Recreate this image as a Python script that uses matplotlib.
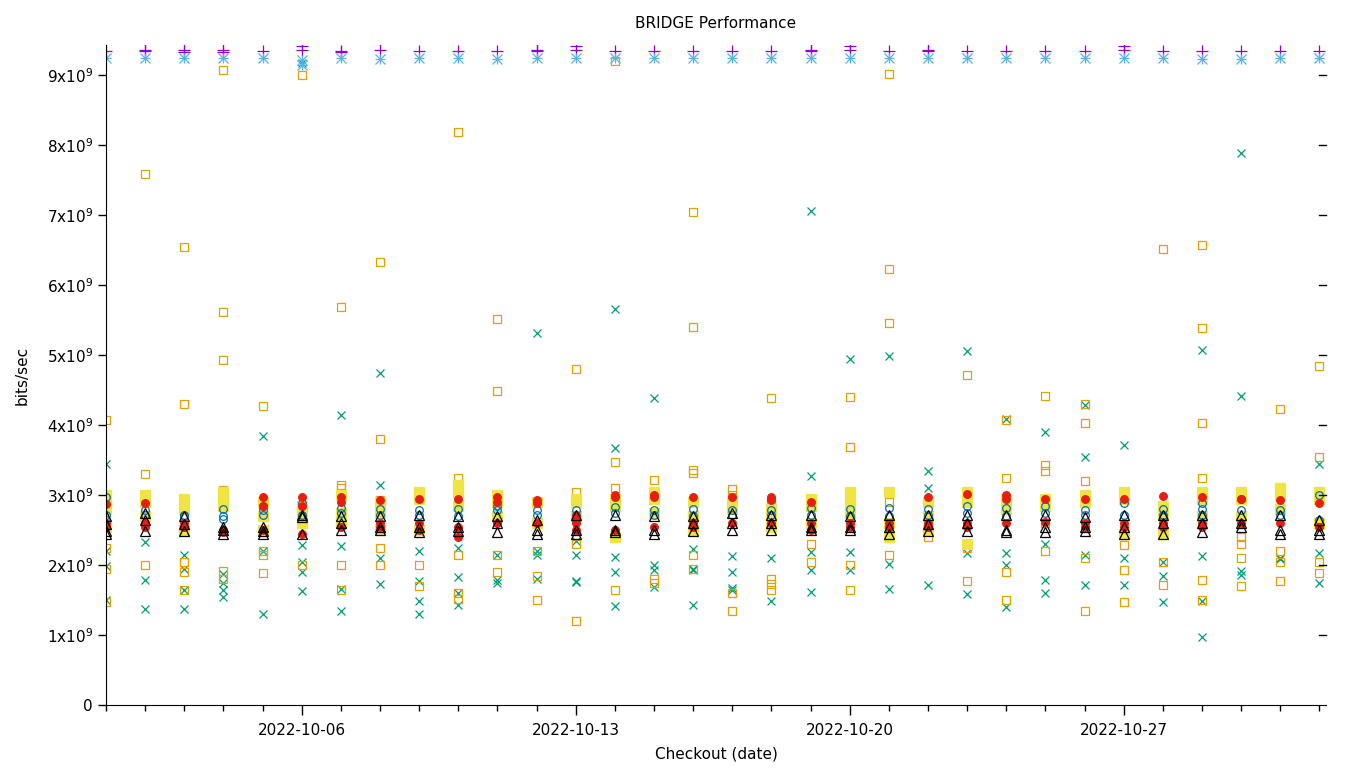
import numpy as np
import matplotlib
matplotlib.use("Agg")
from matplotlib import pyplot as plt
import matplotlib.dates as mdates
from matplotlib.ticker import FixedLocator, FuncFormatter
import datetime as dt

# one entry per day, 2022-10-01 .. 2022-11-01, values in 1e9 bits/sec
start = dt.datetime(2022, 10, 1)
n_days = 32

purple_plus = [
    [9.35], [9.36, 9.34], [9.36, 9.33], [9.36, 9.33], [9.34], [9.36, 9.42],
    [9.35, 9.33], [9.36], [9.35], [9.35], [9.35], [9.36, 9.34], [9.36, 9.42],
    [9.35], [9.35], [9.35], [9.35], [9.35], [9.36, 9.34], [9.36, 9.42],
    [9.35], [9.36, 9.34], [9.35], [9.35], [9.35], [9.35], [9.36, 9.42],
    [9.35], [9.35], [9.35], [9.35], [9.35]]

sky_star = [
    [9.24], [9.24], [9.24], [9.24], [9.24], [9.22, 9.15], [9.24], [9.23],
    [9.24], [9.24], [9.23], [9.24], [9.24], [9.24], [9.24], [9.24], [9.24],
    [9.24], [9.24], [9.24], [9.24], [9.24], [9.24], [9.24], [9.24], [9.24],
    [9.24], [9.24], [9.23], [9.23], [9.24], [9.24]]

green_x = [
    [3.45, 2.2, 1.98, 1.5], [2.95, 2.33, 1.78, 1.37], [2.15, 1.95, 1.65, 1.37],
    [1.87, 1.75, 1.65, 1.55], [3.85, 2.8, 2.2, 1.3], [9.17, 2.28, 2.05, 1.9, 1.63],
    [4.15, 2.27, 1.66, 1.35], [4.74, 3.15, 2.1, 1.73], [2.2, 1.77, 1.48, 1.3],
    [2.25, 1.83, 1.6, 1.43], [2.78, 2.15, 1.78, 1.75], [5.32, 2.2, 2.15, 1.8],
    [2.35, 2.15, 1.77, 1.76], [5.66, 3.67, 2.12, 1.9, 1.41], [4.39, 2.0, 1.93, 1.68],
    [2.23, 1.95, 1.93, 1.43], [2.13, 1.9, 1.67, 1.65], [2.1, 1.49],
    [7.06, 3.27, 2.18, 1.93, 1.62], [4.95, 2.18, 1.93], [4.98, 2.45, 2.02, 1.66],
    [3.35, 3.1, 1.72], [5.06, 2.9, 2.17, 1.58], [4.08, 2.17, 2.0, 1.4],
    [3.9, 2.3, 1.78, 1.6], [4.28, 3.55, 2.15, 1.72], [3.71, 2.1, 1.72],
    [2.05, 1.85, 1.47], [5.07, 2.13, 1.48, 0.97], [7.88, 4.42, 1.92, 1.86],
    [2.1, 2.08], [3.45, 2.17, 1.75]]

orange_sq = [
    [4.07, 3.0, 2.25, 1.95, 1.47], [7.58, 3.3, 2.0], [6.55, 4.3, 2.05, 1.9, 1.65],
    [9.07, 5.62, 4.93, 3.07, 1.92, 1.8], [4.27, 2.2, 2.15, 1.88], [9.0, 2.0],
    [5.68, 3.15, 3.1, 2.0, 1.65], [6.33, 3.8, 2.93, 2.25, 2.0], [3.05, 2.0, 1.7],
    [8.18, 3.25, 3.1, 2.15, 1.6, 1.52], [5.52, 4.49, 2.9, 2.15, 1.9], [2.2, 1.85, 1.5],
    [4.8, 3.05, 2.9, 2.3, 1.2], [9.2, 3.47, 3.1, 2.4, 1.65], [3.22, 3.0, 1.8, 1.75],
    [7.04, 5.4, 3.36, 3.32, 2.15, 1.95], [3.09, 3.0, 1.6, 1.35],
    [4.39, 2.9, 1.8, 1.73, 1.65], [2.95, 2.3, 2.05], [4.4, 3.68, 2.82, 2.0, 1.65],
    [9.01, 6.23, 5.46, 2.9, 2.15], [2.4], [4.72, 2.95, 2.3, 2.25, 1.77],
    [4.07, 3.25, 1.9, 1.5], [4.42, 3.43, 3.35, 2.6, 2.2], [4.3, 4.03, 3.2, 2.1, 1.35],
    [2.95, 2.28, 1.93, 1.47], [6.52, 2.05, 1.72], [6.57, 5.38, 4.03, 3.25, 1.78, 1.5],
    [3.05, 2.4, 2.3, 2.1, 1.7], [4.23, 2.2, 2.05, 1.77], [4.85, 3.55, 2.05, 1.88]]

yellow_sq = [
    [3.0, 2.9, 2.8, 2.55], [3.0, 2.9, 2.7], [2.95, 2.8, 2.5], [3.05, 2.95, 2.85],
    [2.9, 2.7, 2.5], [2.85, 2.75, 2.6], [3.0, 2.75, 2.6], [2.9, 2.75, 2.5],
    [3.05, 2.95, 2.5], [3.15, 3.05, 2.85], [3.0, 2.9, 2.7], [2.9, 2.6],
    [2.95, 2.9, 2.7], [2.95, 2.85, 2.4], [3.05, 2.95, 2.75], [2.9, 2.7, 2.5],
    [2.9, 2.8], [2.8, 2.7, 2.55], [2.95, 2.85, 2.6], [3.05, 2.95, 2.85, 2.75],
    [3.05, 2.6, 2.4], [2.9, 2.7, 2.5], [3.05, 2.9, 2.3], [2.95, 2.8],
    [2.95, 2.85], [3.0, 2.9], [3.05, 2.95, 2.45], [2.85, 2.75, 2.45],
    [3.05, 2.95, 2.7], [3.05, 2.95, 2.7], [3.1, 3.0, 2.8], [3.05, 2.95, 2.6]]

blue_circ = [
    [2.97, 2.72, 2.65], [2.78, 2.72], [2.72, 2.7], [2.8, 2.7, 2.66],
    [2.85, 2.78, 2.72], [2.88, 2.72], [2.82, 2.75], [2.8, 2.72], [2.78, 2.72],
    [2.8, 2.7], [2.85, 2.78], [2.78, 2.72], [2.78, 2.72, 2.65], [2.83, 2.75],
    [2.78, 2.72], [2.8, 2.7], [2.78, 2.72], [2.78, 2.72], [2.82, 2.72],
    [2.8, 2.7], [2.82, 2.7], [2.8, 2.72], [2.85, 2.75], [2.82, 2.7],
    [2.85, 2.75], [2.78, 2.72], [2.88, 2.72], [2.8, 2.72, 2.68],
    [2.88, 2.8, 2.72], [2.95, 2.78], [2.78, 2.72], [3.0, 2.65]]

red_circ = [
    [2.87, 2.6, 2.55], [2.88, 2.6, 2.55], [2.6, 2.55], [2.5, 2.47],
    [2.97, 2.85, 2.5], [2.97, 2.85, 2.45], [2.97, 2.9, 2.55], [2.93, 2.6, 2.55],
    [2.95, 2.6, 2.5], [2.95, 2.55, 2.4], [2.97, 2.9, 2.6], [2.93, 2.88, 2.6],
    [2.7, 2.6, 2.5], [3.0, 2.97, 2.5], [3.0, 2.97, 2.55], [2.97, 2.6, 2.55],
    [2.97, 2.6], [2.97, 2.93, 2.6], [2.9, 2.6, 2.5], [2.6, 2.55], [2.6, 2.55],
    [2.97, 2.6, 2.55], [3.02, 2.6, 2.55], [3.0, 2.95, 2.6], [2.95, 2.62],
    [2.95, 2.6, 2.55], [2.95, 2.6, 2.55], [2.98, 2.6, 2.55], [2.97, 2.6, 2.55],
    [2.95, 2.6], [2.93, 2.6], [2.88, 2.55]]

black_tri = [
    [2.7, 2.58, 2.48, 2.44], [2.75, 2.65, 2.48], [2.7, 2.58, 2.48],
    [2.55, 2.5, 2.45], [2.55, 2.48, 2.44], [2.72, 2.68, 2.45], [2.7, 2.6, 2.5],
    [2.7, 2.55, 2.5], [2.72, 2.55, 2.47], [2.7, 2.55, 2.48], [2.7, 2.6, 2.47],
    [2.65, 2.5, 2.45], [2.72, 2.5, 2.45], [2.72, 2.5, 2.47], [2.7, 2.5, 2.45],
    [2.7, 2.6, 2.48], [2.75, 2.6, 2.5], [2.72, 2.6, 2.5], [2.72, 2.55, 2.5],
    [2.7, 2.55, 2.5], [2.72, 2.55, 2.45], [2.72, 2.58, 2.48], [2.72, 2.6, 2.48],
    [2.72, 2.5, 2.47], [2.72, 2.55, 2.47], [2.68, 2.55, 2.48],
    [2.72, 2.55, 2.45], [2.72, 2.6, 2.45], [2.72, 2.6, 2.47], [2.72, 2.6, 2.55],
    [2.72, 2.5, 2.45], [2.65, 2.5, 2.45]]


def flatten(per_day):
    xs, ys = [], []
    for i, vals in enumerate(per_day):
        for v in vals:
            xs.append(start + dt.timedelta(days=i))
            ys.append(v * 1e9)
    return xs, ys


fig = plt.figure(figsize=(13.6, 7.68), dpi=100)
ax = fig.add_axes([106 / 1360, 63 / 768, 1220 / 1360, 660 / 768])

lw = 0.9
series = [
    (purple_plus, "#9400d3", ["+"], 9, "full"),
    (green_x, "#009e73", ["x"], 6, "full"),
    (sky_star, "#56b4e9", ["+", "x"], 6.5, "full"),
    (orange_sq, "#e69f00", ["s"], 6, "none"),
    (yellow_sq, "#f0e442", ["s"], 6.5, "full"),
    (blue_circ, "#0072b2", ["o"], 5.5, "none"),
    (red_circ, "#e51e10", ["o"], 5.5, "full"),
    (black_tri, "black", ["^"], 6.5, "none"),
]
for data, col, markers, ms, fill in series:
    xs, ys = flatten(data)
    for m in markers:
        if fill == "none":
            ax.plot(xs, ys, linestyle="none", marker=m, ms=ms, mec=col,
                    mfc="none", mew=lw)
        else:
            ax.plot(xs, ys, linestyle="none", marker=m, ms=ms, color=col,
                    mew=lw)

ax.set_xlim(start, start + dt.timedelta(days=31.17))
ax.set_ylim(0, 9.43e9)

ax.spines["top"].set_visible(False)
ax.spines["right"].set_visible(False)

ax.xaxis.set_major_locator(mdates.DayLocator(bymonthday=[6, 13, 20, 27]))
ax.xaxis.set_major_formatter(mdates.DateFormatter("%Y-%m-%d"))
ax.xaxis.set_minor_locator(mdates.DayLocator())
ax.tick_params(axis="x", which="major", direction="out", length=7, width=1,
               labelsize=11, pad=6)
ax.tick_params(axis="x", which="minor", direction="out", length=4, width=1)

yt = np.arange(0, 10) * 1e9
ax.yaxis.set_major_locator(FixedLocator(yt))
ax.yaxis.set_major_formatter(FuncFormatter(
    lambda v, p: "0" if v == 0 else "%dx10$^{9}$" % round(v / 1e9)))
ax.tick_params(axis="y", which="major", direction="out", length=6, width=1,
               labelsize=11, right=False)

# mirrored ticks on the right edge
for v in yt[1:]:
    ax.plot([1.0 - 7 / 1220, 1.0], [v, v], color="black", lw=1,
            transform=ax.get_yaxis_transform(), clip_on=False)

ax.set_title("BRIDGE Performance", fontsize=11, pad=12)
ax.set_xlabel("Checkout (date)", fontsize=11, labelpad=6)
ax.set_ylabel("bits/sec", fontsize=11, labelpad=12)

fig.savefig("out.png", dpi=100)
